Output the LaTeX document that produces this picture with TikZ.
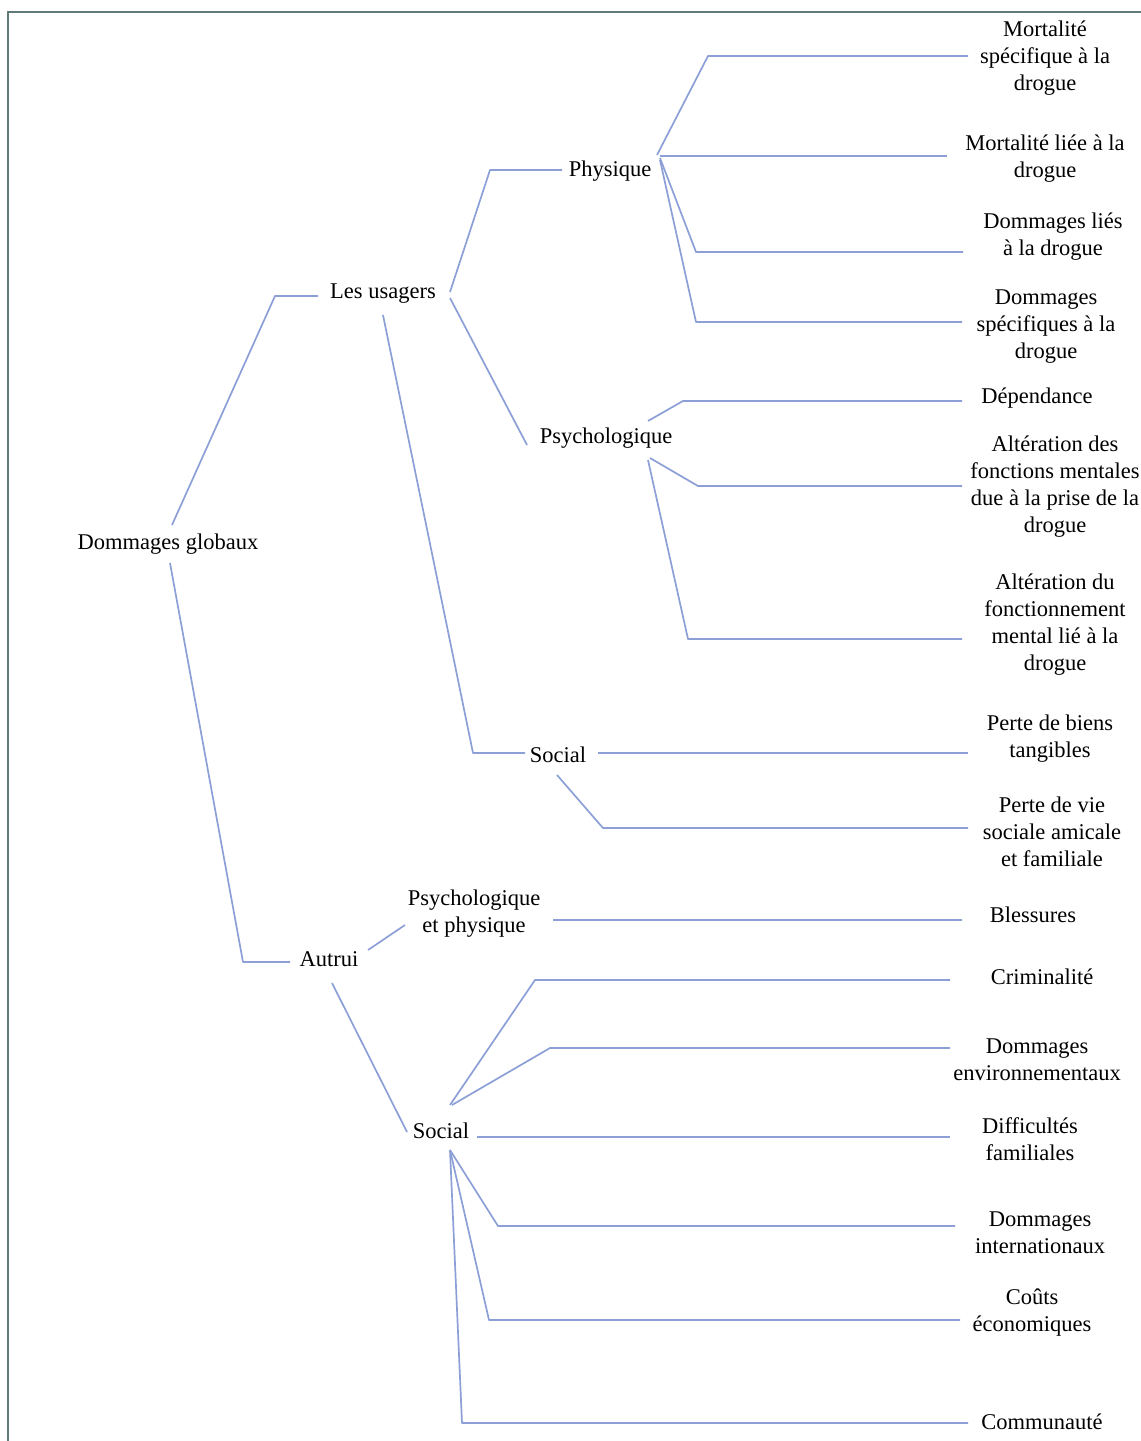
\documentclass[tikz,border=0pt]{standalone}
\usepackage{fontspec}
\setmainfont{Liberation Serif}
\begin{document}
\begin{tikzpicture}[x=1pt,y=-1pt,
  link/.style={draw={rgb,255:red,140;green,160;blue,215}, line width=1.7pt, line join=round},
  lbl/.style={align=center, inner sep=1pt, yshift=-2pt, font=\fontsize{22.5}{27}\selectfont, text=black},
  frameline/.style={draw={rgb,255:red,95;green,122;blue,120}, line width=2.5pt}]
\clip (0,0) rectangle (1141,1441);
% frame
\draw[frameline] (8,1460) -- (8,12) -- (1160,12);

% inner levels
\node[lbl] (root) at (168,542) {Dommages globaux};
\node[lbl] (lu)   at (383,292) {Les usagers};
\node[lbl] (aut)  at (329,957) {Autrui};
\node[lbl] (phys) at (610,169) {Physique};
\node[lbl] (psy)  at (606,436) {Psychologique};
\node[lbl] (soca) at (558,753) {Social};
\node[lbl] (pp)   at (474,912) {Psychologique\\et physique};
\node[lbl] (socb) at (441,1129) {Social};

% leaves
\node[lbl] (l1)  at (1045,56)   {Mortalité\\spécifique à la\\drogue};
\node[lbl] (l2)  at (1045,157)  {Mortalité liée à la\\drogue};
\node[lbl] (l3)  at (1053,235)  {Dommages liés\\à la drogue};
\node[lbl] (l4)  at (1046,325)  {Dommages\\spécifiques à la\\drogue};
\node[lbl] (l5)  at (1037,396)  {Dépendance};
\node[lbl] (l6)  at (1055,485)  {Altération des\\fonctions mentales\\due à la prise de la\\drogue};
\node[lbl] (l7)  at (1055,623)  {Altération du\\fonctionnement\\mental lié à la\\drogue};
\node[lbl] (l8)  at (1050,737)  {Perte de biens\\tangibles};
\node[lbl] (l9)  at (1052,830)  {Perte de vie\\sociale amicale\\et familiale};
\node[lbl] (l10) at (1033,913)  {Blessures};
\node[lbl] (l11) at (1042,975)  {Criminalité};
\node[lbl] (l12) at (1037,1058) {Dommages\\environnementaux};
\node[lbl] (l13) at (1030,1137) {Difficultés\\familiales};
\node[lbl] (l14) at (1040,1231) {Dommages\\internationaux};
\node[lbl] (l15) at (1032,1311) {Coûts\\économiques};
\node[lbl] (l16) at (1042,1420) {Communauté};

% connector ends beside the leaves
\coordinate (e1)  at (968,56);
\coordinate (e2)  at (947,156);
\coordinate (e3)  at (963,252);
\coordinate (e4)  at (962,322);
\coordinate (e5)  at (962,401);
\coordinate (e6)  at (962,486);
\coordinate (e7)  at (962,639);
\coordinate (e8)  at (968,753);
\coordinate (e9)  at (968,828);
\coordinate (e10) at (962,920);
\coordinate (e11) at (950,980);
\coordinate (e12) at (950,1048);
\coordinate (e13) at (950,1137);
\coordinate (e14) at (955,1226);
\coordinate (e15) at (960,1320);
\coordinate (e16) at (968,1423);

% first level
\draw[link] (172,525) -- (275,296) -- (318,296);
\draw[link] (170,563) -- (243,962) -- (290,962);

% users
\draw[link] (450,292) -- (490,170) -- (562,170);
\draw[link] (450,298) -- (527,445);
\draw[link] (383,315) -- (473,753) -- (525,753);

% physical
\draw[link] (657,155) -- (708,56) -- (e1);
\draw[link] (660,156) -- (e2);
\draw[link] (660,158) -- (696,252) -- (e3);
\draw[link] (660,160) -- (696,322) -- (e4);

% psychological
\draw[link] (648,421) -- (683,401) -- (e5);
\draw[link] (650,458) -- (698,486) -- (e6);
\draw[link] (648,460) -- (688,639) -- (e7);

% social (users)
\draw[link] (598,753) -- (e8);
\draw[link] (557,775) -- (603,828) -- (e9);

% others
\draw[link] (368,950) -- (405,925);
\draw[link] (332,983) -- (407,1132);
\draw[link] (553,920) -- (e10);

% social (others)
\draw[link] (450,1105) -- (535,980) -- (e11);
\draw[link] (452,1105) -- (550,1048) -- (e12);
\draw[link] (477,1137) -- (e13);
\draw[link] (450,1150) -- (498,1226) -- (e14);
\draw[link] (450,1150) -- (489,1320) -- (e15);
\draw[link] (450,1150) -- (462,1423) -- (e16);
\end{tikzpicture}
\end{document}
